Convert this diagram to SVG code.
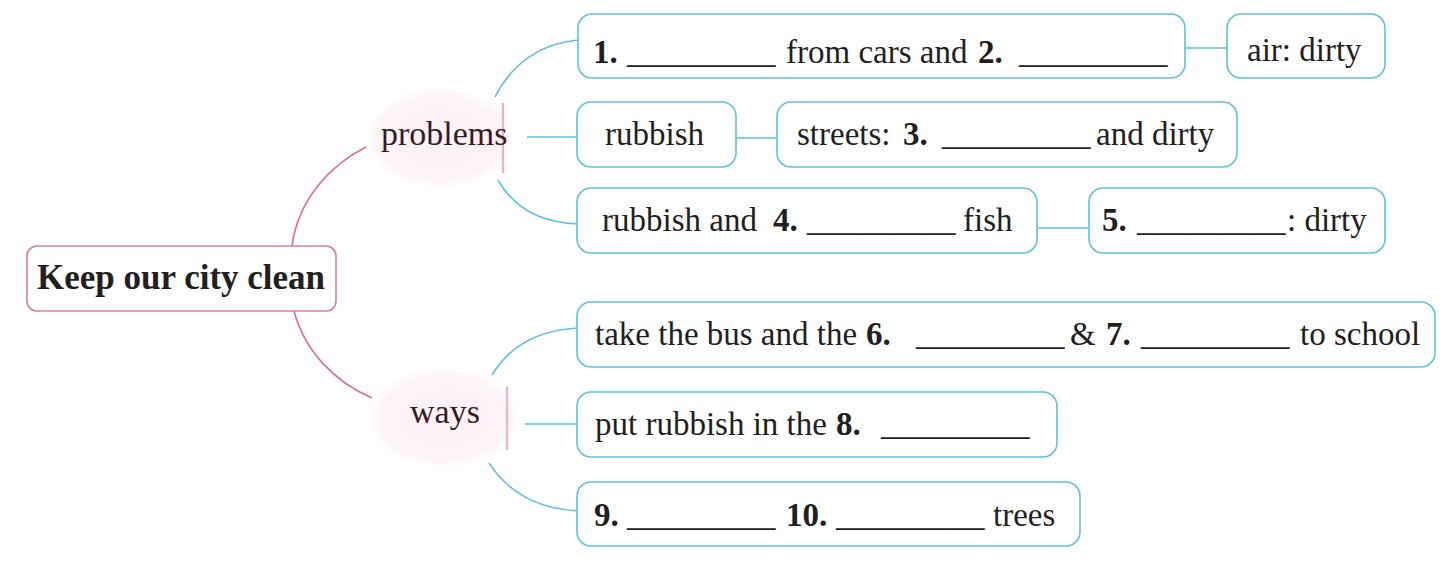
<svg xmlns="http://www.w3.org/2000/svg" width="1450" height="561" viewBox="0 0 1450 561">
<defs>
<radialGradient id="blob" cx="50%" cy="50%" r="50%">
<stop offset="0%" stop-color="#fdf1f7"/>
<stop offset="80%" stop-color="#fdf3f8"/>
<stop offset="100%" stop-color="#fef7fa" stop-opacity="0"/>
</radialGradient>
</defs>
<style>
.t{font-family:"Liberation Serif","Times New Roman",serif;font-size:33px;fill:#231f20}
.b{font-weight:bold}
.box{fill:#fff;stroke:#5fc2df;stroke-width:1.6}
.pbox{fill:#fff;stroke:#e07aa8;stroke-width:1.6}
.bl{fill:none;stroke:#5fc2df;stroke-width:1.6}
.pk{fill:none;stroke:#e06a9e;stroke-width:1.6}
.bar{stroke:#eab0cc;stroke-width:2.2}
</style>
<rect width="1450" height="561" fill="#fff"/>
<g id="connectors">
<path class="pk" d="M292,246 C298,200 330,165 366,147"/>
<path class="pk" d="M294,311 C305,352 335,382 372,398"/>
<path class="bl" d="M495,97 C512,63 542,43 578,40"/>
<path class="bl" d="M527,137 H577"/>
<path class="bl" d="M498,180 C516,212 546,223 578,224"/>
<path class="bl" d="M1185,48 H1227"/>
<path class="bl" d="M736,138 H777"/>
<path class="bl" d="M1037,228 H1089"/>
<path class="bl" d="M492,375 C510,345 540,330 578,328"/>
<path class="bl" d="M525,424 H577"/>
<path class="bl" d="M489,463 C510,495 540,509 578,511"/>
</g>
<g id="root">
<rect class="pbox" x="27" y="246" width="309" height="65" rx="10"/>
<text class="t b" x="37" y="289" style="font-size:35px">Keep our city clean</text>
</g>
<g id="problems">
<ellipse cx="440" cy="138" rx="76" ry="52" fill="url(#blob)"/>
<line class="bar" x1="503" y1="103" x2="503" y2="173"/>
<text class="t" x="381" y="145" style="fill:#3a1a22;font-size:34px">problems</text>
</g>
<g id="ways">
<ellipse cx="444" cy="418" rx="78" ry="52" fill="url(#blob)"/>
<line class="bar" x1="507" y1="387" x2="507" y2="450"/>
<text class="t" x="410" y="423" style="fill:#3a1a22;font-size:34px">ways</text>
</g>
<g id="p1">
<rect class="box" x="578" y="14" width="607" height="64" rx="14"/>
<text class="t" y="63"><tspan class="b" x="593">1.</tspan><tspan x="627">_________</tspan><tspan x="786">from cars and</tspan><tspan class="b" x="978">2.</tspan><tspan x="1019">_________</tspan></text>
</g>
<g id="p1a">
<rect class="box" x="1227" y="14" width="158" height="64" rx="14"/>
<text class="t" x="1247" y="61">air: dirty</text>
</g>
<g id="p2">
<rect class="box" x="577" y="102" width="159" height="65" rx="14"/>
<text class="t" x="605" y="145">rubbish</text>
</g>
<g id="p2a">
<rect class="box" x="777" y="102" width="460" height="65" rx="14"/>
<text class="t" y="145"><tspan x="797">streets: </tspan><tspan class="b" x="903">3.</tspan><tspan x="942">_________</tspan><tspan x="1096">and dirty</tspan></text>
</g>
<g id="p3">
<rect class="box" x="577" y="188" width="460" height="65" rx="14"/>
<text class="t" y="231"><tspan x="602">rubbish and </tspan><tspan class="b" x="773">4.</tspan><tspan x="807">_________</tspan><tspan x="963">fish</tspan></text>
</g>
<g id="p3a">
<rect class="box" x="1089" y="188" width="296" height="65" rx="14"/>
<text class="t" y="231"><tspan class="b" x="1102">5.</tspan><tspan x="1137">_________</tspan><tspan x="1287">: dirty</tspan></text>
</g>
<g id="w1">
<rect class="box" x="577" y="302" width="858" height="65" rx="14"/>
<text class="t" y="345"><tspan x="595">take the bus and the </tspan><tspan class="b" x="866">6.</tspan><tspan x="916">_________</tspan><tspan x="1070">&amp; </tspan><tspan class="b" x="1106">7.</tspan><tspan x="1141">_________</tspan><tspan x="1300">to school</tspan></text>
</g>
<g id="w2">
<rect class="box" x="577" y="392" width="480" height="65" rx="14"/>
<text class="t" y="435"><tspan x="595">put rubbish in the </tspan><tspan class="b" x="836">8.</tspan><tspan x="881">_________</tspan></text>
</g>
<g id="w3">
<rect class="box" x="577" y="482" width="503" height="64" rx="14"/>
<text class="t" y="526"><tspan class="b" x="594">9.</tspan><tspan x="627">_________</tspan><tspan class="b" x="786">10.</tspan><tspan x="836">_________</tspan><tspan x="993">trees</tspan></text>
</g>
</svg>
